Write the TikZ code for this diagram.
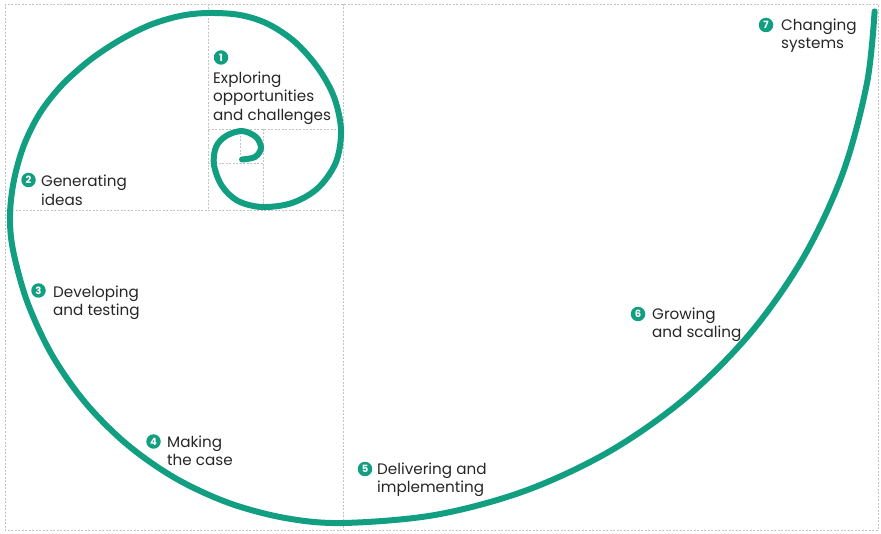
\documentclass[tikz,border=0pt]{standalone}
\usepackage{fontspec}
\setmainfont{Poppins}
\definecolor{spiral}{RGB}{18,158,128}
\definecolor{ink}{RGB}{38,38,38}
\definecolor{gridc}{RGB}{195,195,195}
\tikzset{
  gridline/.style={draw=gridc, line width=0.8pt, dash pattern=on 2pt off 1.5pt},
  spiralline/.style={draw=spiral, line width=6pt, line cap=round, line join=round},
  num/.style={circle, fill=spiral, text=white, inner sep=0pt, minimum size=14.5pt,
    font=\fontsize{10}{10}\selectfont\bfseries},
  lbl/.style={anchor=north west, inner sep=0pt, align=left, text=ink,
    font=\fontsize{15.2}{18.5}\selectfont},
}
\begin{document}
\begin{tikzpicture}[x=1pt,y=-1pt]
\useasboundingbox (0,0) rectangle (881,534);
% grid
\draw[gridline] (5,4) rectangle (878,530);
\draw[gridline] (343,4) -- (343,530);
\draw[gridline] (5,210) -- (343,210);
\draw[gridline] (208,4) -- (208,210);
\draw[gridline] (208,129) -- (343,129);
\draw[gridline] (263,129) -- (263,210);
\draw[gridline] (208,163) -- (263,163);
\draw[gridline] (240,129) -- (240,163);
% spiral
\draw[spiralline] plot[smooth, tension=0.55] coordinates {
 (874.6,11.4) (866.9,83.4) (842.9,172.9) (803.7,257) (750.5,333) (685,398.5)
 (609,451.7) (524.9,490.9) (435.4,514.9) (343,523) (284.7,517.9) (228.1,502.7)
 (175,478) (127,444.4) (85.6,403) (52,355) (27.3,301.9) (13,250) (10,215)
 (14,180) (24,145) (40,113) (62,85) (90,60) (120,40) (150,25) (180,16) (208,13)
 (240,15) (268,24) (295,42) (318,68) (334,97) (341,130) (336,162) (318,188)
 (292,203) (262,207) (238,201) (222,186) (214,165) (216,147) (226,136)
 (242,131) (256,137) (261,148) (255,157) (242,159.5)};
% labels
\node[num] (n1) at (221,57.5) {1};
\node[lbl] (t1) at (213,71.5) {Exploring\\opportunities\\and challenges};
\node[num] (n2) at (28.5,180) {2};
\node[lbl] (t2) at (41,175) {Generating\\ideas};
\node[num] (n3) at (38.5,290.5) {3};
\node[lbl] (t3) at (53,285.5) {Developing\\and testing};
\node[num] (n4) at (153.5,441.5) {4};
\node[lbl] (t4) at (167,435.5) {Making\\the case};
\node[num] (n5) at (365,469) {5};
\node[lbl] (t5) at (377,462.5) {Delivering and\\implementing};
\node[num] (n6) at (638,314) {6};
\node[lbl] (t6) at (652,307.5) {Growing\\and scaling};
\node[num] (n7) at (766,25) {7};
\node[lbl] (t7) at (781,18.5) {Changing\\systems};
\end{tikzpicture}
\end{document}
